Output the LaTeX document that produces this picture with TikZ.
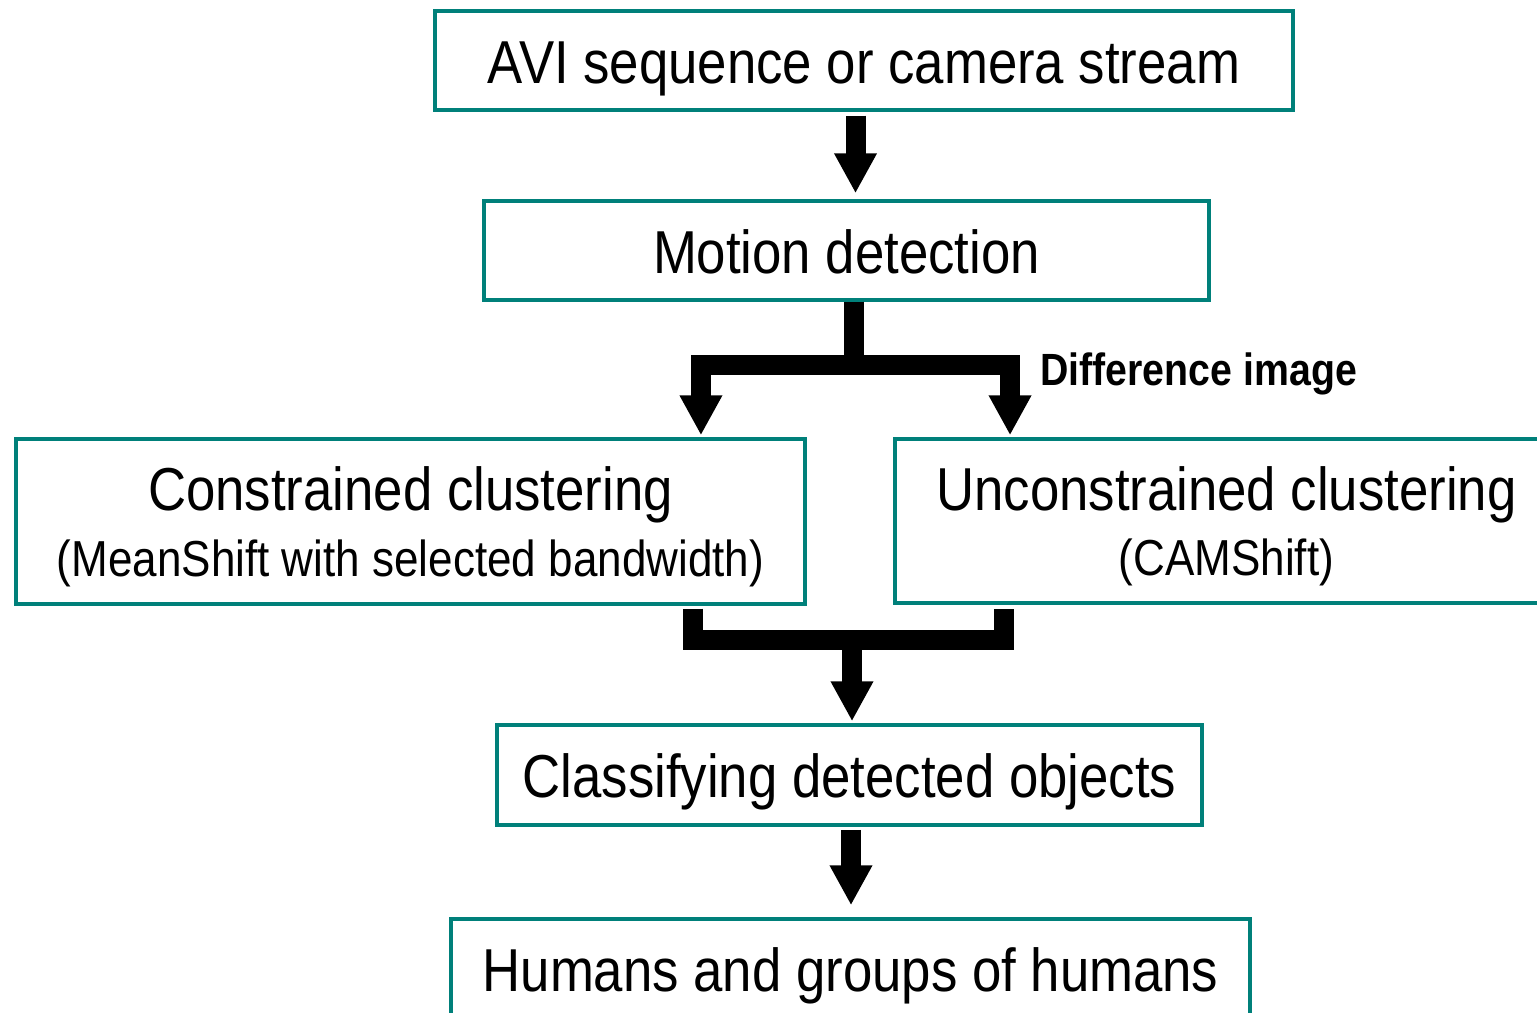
\documentclass[tikz,border=0pt]{standalone}
\usepackage{fontspec}
\setmainfont[FakeStretch=0.87]{Liberation Sans}
\usetikzlibrary{arrows.meta,calc}
\definecolor{flowteal}{RGB}{0,128,122}
\newcommand{\titlesize}{\fontsize{34.5}{40}\selectfont}
\newcommand{\subsize}{\fontsize{28.8}{33}\selectfont}
\newcommand{\notesize}{\fontsize{25.7}{30}\selectfont}
\tikzset{
  stage/.style={draw=flowteal,line width=2pt,align=center,font=\titlesize,inner sep=0pt},
  oneline/.style={stage,text height=26pt,text depth=0pt},
  twoline/.style={stage,text depth=0pt},
  bar/.style={line width=0.4cm,line join=miter},
  flow/.style={bar,-{Triangle[width=0.8cm,length=0.8cm]}},
}
\begin{document}
\begin{tikzpicture}[x=0.02cm,y=-0.02cm]
  \useasboundingbox (0,0) rectangle (1537,1013);
  \clip (0,0) rectangle (1537,1013);
  % boxes
  \node[oneline,minimum width=17.16cm,minimum height=1.98cm] (avi) at (864,60.5) {AVI sequence or camera stream};
  \node[oneline,minimum width=14.5cm,minimum height=1.98cm] (mot) at (846.5,250.5) {Motion detection};
  \node[twoline,minimum width=15.78cm,minimum height=3.3cm] (cons) at (410.5,521.5)
    {Constrained clustering\\[-2.6pt]\subsize (MeanShift with selected bandwidth)};
  \node[twoline,minimum width=13.26cm,minimum height=3.28cm] (uncons) at (1226.5,521)
    {Unconstrained clustering\\[-2.6pt]\subsize (CAMShift)};
  \node[oneline,minimum width=14.1cm,minimum height=2cm] (cls) at (849.5,775) {Classifying detected objects};
  \node[oneline,minimum width=15.98cm,minimum height=2cm] (hum) at (850.5,969) {Humans and groups of humans};
  % arrows
  \draw[flow,shorten <=0.08cm,shorten >=0.12cm] ([xshift=-0.17cm]avi.south) -- ([xshift=-0.17cm]avi.south |- mot.north);
  \coordinate (fork) at ([xshift=0.14cm,yshift=-1.26cm]mot.south);
  \draw[flow,shorten >=0.04cm] (mot.south -| fork) -- (fork) -| ([xshift=5.81cm]cons.north);
  \draw[flow,shorten >=0.04cm] (mot.south -| fork) -- (fork) -| ([xshift=-4.33cm]uncons.north);
  \node[font=\bfseries\notesize,anchor=base west,inner sep=0pt] (diff) at (1040,385) {Difference image};
  \coordinate (merge) at ([xshift=0.05cm,yshift=1.67cm]cls.north);
  \draw[bar,shorten <=0.06cm,shorten >=0.08cm] ([xshift=5.65cm]cons.south) |- (merge) -| ([xshift=-4.45cm]uncons.south);
  \draw[flow,shorten >=0.04cm] (merge) -- (merge |- cls.north);
  \draw[flow,shorten <=0.06cm,shorten >=0.24cm] ([xshift=0.03cm]cls.south) -- ([xshift=0.03cm]cls.south |- hum.north);
\end{tikzpicture}
\end{document}
